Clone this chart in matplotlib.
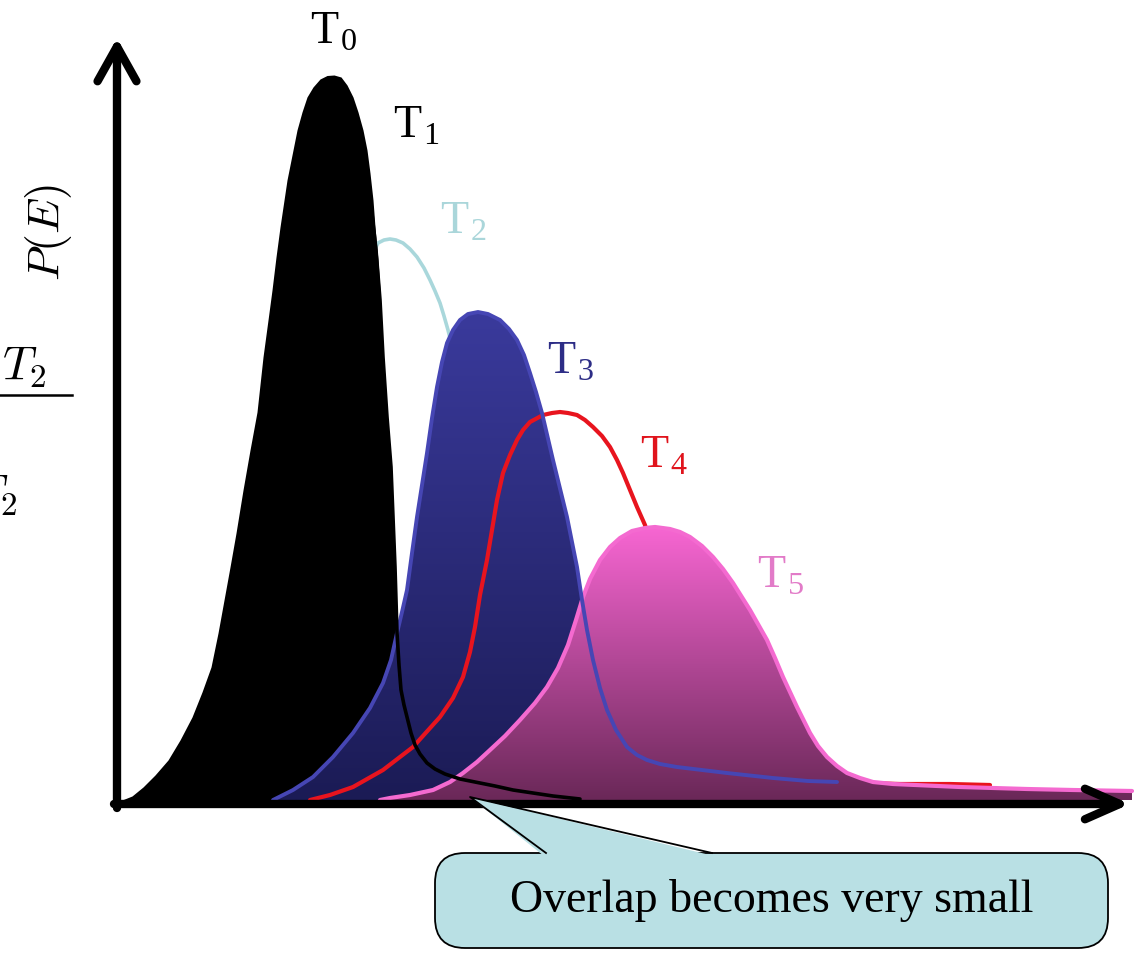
import numpy as np
import matplotlib.pyplot as plt
from matplotlib.colors import LinearSegmentedColormap
from matplotlib.patches import FancyBboxPatch, Polygon

plt.rcParams['mathtext.fontset'] = 'cm'

# Energy distributions P(E) of the replicas (arbitrary units)
t0_E = np.array([0.05, 0.15, 0.26, 0.38, 0.51, 0.63, 0.75, 0.85, 0.94, 1.01, 1.07, 1.13,
                 1.19, 1.26, 1.33, 1.40, 1.46, 1.51, 1.55, 1.59, 1.63, 1.70, 1.75, 1.80,
                 1.85, 1.90, 1.96, 2.03, 2.10, 2.17, 2.24, 2.30, 2.36, 2.41, 2.46, 2.50,
                 2.53, 2.56, 2.58, 2.61, 2.63, 2.66, 2.70, 2.74, 2.78, 2.80, 2.83, 2.88,
                 2.95, 3.03])
t0_P = np.array([0.00, 0.04, 0.13, 0.25, 0.40, 0.60, 0.83, 1.08, 1.33, 1.67, 2.00, 2.33,
                 2.67, 3.10, 3.50, 3.88, 4.43, 4.80, 5.10, 5.43, 5.73, 6.20, 6.45, 6.70,
                 6.88, 7.03, 7.13, 7.21, 7.245, 7.25, 7.23, 7.15, 7.03, 6.88, 6.70, 6.50,
                 6.27, 6.00, 5.73, 5.40, 5.10, 4.43, 3.83, 3.33, 2.33, 1.67, 1.10, 0.60,
                 0.20, 0.00])

t1_E = np.array([0.53, 0.68, 0.88, 1.08, 1.23, 1.38, 1.48, 1.63, 1.75, 1.88, 2.03, 2.23,
                 2.38, 2.47, 2.54, 2.59, 2.63, 2.66, 2.70, 2.74, 2.78, 2.80, 2.82, 2.84,
                 2.87, 2.90, 2.94, 2.98, 3.03, 3.10, 3.18, 3.28, 3.43, 3.58, 3.78, 3.96,
                 4.16, 4.36, 4.63])
t1_P = np.array([0.00, 0.20, 0.60, 1.20, 1.90, 2.80, 3.60, 4.70, 5.60, 6.30, 6.70, 6.87,
                 6.75, 6.35, 5.95, 5.50, 5.00, 4.43, 3.83, 3.33, 2.33, 1.67, 1.35, 1.10,
                 0.95, 0.83, 0.67, 0.55, 0.46, 0.37, 0.31, 0.26, 0.21, 0.18, 0.14, 0.10,
                 0.07, 0.04, 0.01])

t2_E = np.array([0.98, 1.38, 1.68, 1.93, 2.13, 2.31, 2.45, 2.55, 2.61, 2.67, 2.73, 2.79,
                 2.86, 2.93, 3.00, 3.07, 3.13, 3.18, 3.23, 3.27, 3.31, 3.41, 3.53, 3.68,
                 3.83, 4.03, 4.28, 4.58, 5.03, 5.63, 6.23])
t2_P = np.array([0.00, 0.80, 1.80, 2.80, 3.70, 4.50, 5.10, 5.45, 5.57, 5.60, 5.61, 5.60,
                 5.57, 5.51, 5.43, 5.32, 5.20, 5.09, 4.97, 4.84, 4.70, 4.30, 3.70, 3.00,
                 2.30, 1.60, 0.90, 0.40, 0.13, 0.03, 0.00])

t3_E = np.array([1.56, 1.76, 1.96, 2.16, 2.36, 2.53, 2.66, 2.74, 2.80, 2.85, 2.90, 2.95,
                 3.00, 3.05, 3.10, 3.15, 3.20, 3.25, 3.30, 3.36, 3.43, 3.51, 3.61, 3.71,
                 3.83, 3.92, 4.00, 4.07, 4.13, 4.19, 4.25, 4.36, 4.50, 4.60, 4.65, 4.70,
                 4.76, 4.83, 4.90, 4.99, 5.10, 5.20, 5.30, 5.43, 5.60, 6.10, 6.56, 6.91,
                 7.20])
t3_P = np.array([0.00, 0.10, 0.23, 0.43, 0.67, 0.92, 1.17, 1.40, 1.67, 1.88, 2.10, 2.47,
                 2.83, 3.15, 3.47, 3.82, 4.13, 4.38, 4.57, 4.70, 4.80, 4.86, 4.88, 4.86,
                 4.80, 4.71, 4.60, 4.45, 4.27, 4.08, 3.87, 3.40, 2.83, 2.33, 2.00, 1.70,
                 1.40, 1.12, 0.90, 0.70, 0.53, 0.45, 0.40, 0.36, 0.33, 0.27, 0.22, 0.19,
                 0.18])

t4_E = np.array([1.93, 2.13, 2.36, 2.66, 2.96, 3.23, 3.36, 3.46, 3.53, 3.58, 3.63, 3.70,
                 3.75, 3.80, 3.86, 3.93, 4.00, 4.06, 4.13, 4.26, 4.35, 4.43, 4.51, 4.60,
                 4.68, 4.76, 4.85, 4.93, 5.00, 5.06, 5.13, 5.20, 5.28, 5.38, 5.51, 5.68,
                 5.88, 6.18, 6.58, 7.13, 7.83, 8.33, 8.73])
t4_P = np.array([0.00, 0.05, 0.13, 0.30, 0.53, 0.83, 1.02, 1.23, 1.48, 1.73, 2.05, 2.40,
                 2.70, 3.00, 3.27, 3.45, 3.60, 3.70, 3.78, 3.85, 3.87, 3.88, 3.87, 3.85,
                 3.80, 3.73, 3.64, 3.53, 3.40, 3.27, 3.10, 2.93, 2.75, 2.40, 1.90, 1.35,
                 0.85, 0.45, 0.25, 0.18, 0.16, 0.16, 0.15])

t5_E = np.array([2.63, 2.73, 2.93, 3.16, 3.33, 3.46, 3.60, 3.73, 3.88, 4.03, 4.18, 4.30,
                 4.41, 4.51, 4.59, 4.66, 4.73, 4.83, 4.93, 5.03, 5.15, 5.28, 5.38, 5.53,
                 5.63, 5.73, 5.85, 5.96, 6.06, 6.16, 6.33, 6.50, 6.58, 6.66, 6.80, 6.93,
                 7.01, 7.10, 7.20, 7.30, 7.43, 7.56, 7.76, 8.43, 9.10, 9.56, 10.15])
t5_P = np.array([0.00, 0.02, 0.05, 0.10, 0.18, 0.27, 0.38, 0.50, 0.64, 0.80, 0.97, 1.13,
                 1.32, 1.55, 1.80, 2.03, 2.21, 2.40, 2.53, 2.62, 2.69, 2.72, 2.73, 2.71,
                 2.68, 2.63, 2.54, 2.43, 2.31, 2.17, 1.90, 1.60, 1.42, 1.23, 0.93, 0.67,
                 0.54, 0.43, 0.34, 0.27, 0.22, 0.18, 0.16, 0.13, 0.11, 0.10, 0.09])


def gradient_fill(ax, e, p, top, bottom, z):
    """Fill the area under a curve with a vertical colour gradient."""
    poly = ax.fill_between(e, p, 0, facecolor='none', lw=0, zorder=z)
    cmap = LinearSegmentedColormap.from_list('grad', [bottom, top])
    grad = np.linspace(0, 1, 256).reshape(-1, 1)
    im = ax.imshow(grad, cmap=cmap, origin='lower', aspect='auto', zorder=z,
                   extent=[e.min(), e.max(), 0, p.max()], interpolation='bilinear')
    im.set_clip_path(poly.get_paths()[0], transform=ax.transData)


fig = plt.figure(figsize=(11.41, 9.55), dpi=100)
ax = fig.add_axes([0, 0, 1, 1])
ax.set_axis_off()

line_kw = dict(solid_joinstyle='round', solid_capstyle='round')

# curves, back to front
ax.plot(t2_E, t2_P, color='#a9d7db', lw=2.6, zorder=2, **line_kw)
ax.fill_between(t0_E, t0_P, 0, color='black', lw=0, zorder=3)
gradient_fill(ax, t3_E, t3_P, '#3a3a9c', '#1b1b55', 4)
ax.plot(t4_E, t4_P, color='#e8141e', lw=3.0, zorder=5, **line_kw)
gradient_fill(ax, t5_E, t5_P, '#f766d2', '#6a2858', 6)
ax.plot(t5_E, t5_P, color='#f46ad0', lw=3.0, zorder=7, **line_kw)
ax.plot(t3_E, t3_P, color='#4646b4', lw=2.8, zorder=8, **line_kw)
ax.plot(t1_E, t1_P, color='black', lw=2.6, zorder=9, **line_kw)

# axes drawn as thick arrows
ax.annotate('', xy=(0, 7.62), xytext=(0, -0.08),
            arrowprops=dict(arrowstyle='->,head_length=2.5,head_width=1.4', lw=6,
                            color='black', shrinkA=0, shrinkB=0, mutation_scale=10),
            zorder=10)
ax.annotate('', xy=(10.13, -0.04), xytext=(-0.03, -0.04),
            arrowprops=dict(arrowstyle='->,head_length=2.5,head_width=1.1', lw=6,
                            color='black', shrinkA=0, shrinkB=0, mutation_scale=10),
            zorder=10)

# temperature labels
labels = [('0', 1.93, 7.57, 'black'), ('1', 2.76, 6.63, 'black'),
          ('2', 3.23, 5.67, '#aad6da'), ('3', 4.30, 4.27, '#2d2d86'),
          ('4', 5.23, 3.33, '#e0141c'), ('5', 6.40, 2.13, '#e27bc8')]
for idx, x, y, c in labels:
    ax.text(x, y, r'$\mathdefault{T}_\mathdefault{%s}$' % idx, color=c, fontsize=33,
            family='Liberation Serif', ha='left', va='baseline', zorder=12)

# axis label and equation fragments at the left edge
ax.text(-0.69, 5.67, r'$P(E)$', rotation=90, fontsize=33, ha='center', va='center')
ax.text(-1.15, 4.20, r'$T_2$', fontsize=34, ha='left', va='baseline')
ax.plot([-1.2, -0.45], [4.05, 4.05], color='black', lw=1.8, clip_on=False)
ax.text(-1.44, 2.92, r'$T_2$', fontsize=34, ha='left', va='baseline')

# callout
box_fc = '#b9e0e4'
box = FancyBboxPatch((3.18, -1.48), 6.73, 0.95, boxstyle='round,pad=0,rounding_size=0.3',
                     fc=box_fc, ec='black', lw=1.3, zorder=11, clip_on=False)
ax.add_patch(box)
ax.add_patch(Polygon([(3.53, 0.03), (4.27, -0.56), (5.97, -0.56)], closed=True,
                     fc=box_fc, ec='none', zorder=12))
ax.plot([4.29, 3.53, 5.95], [-0.53, 0.03, -0.53], color='black', lw=1.3, zorder=12)
ax.text(6.55, -1.0, 'Overlap becomes very small', fontsize=33, family='Liberation Serif',
        ha='center', va='center', zorder=13)

ax.set_xlim(-1.17, 10.24)
ax.set_ylim(-1.55, 8.00)

fig.savefig('out.png', dpi=100)
